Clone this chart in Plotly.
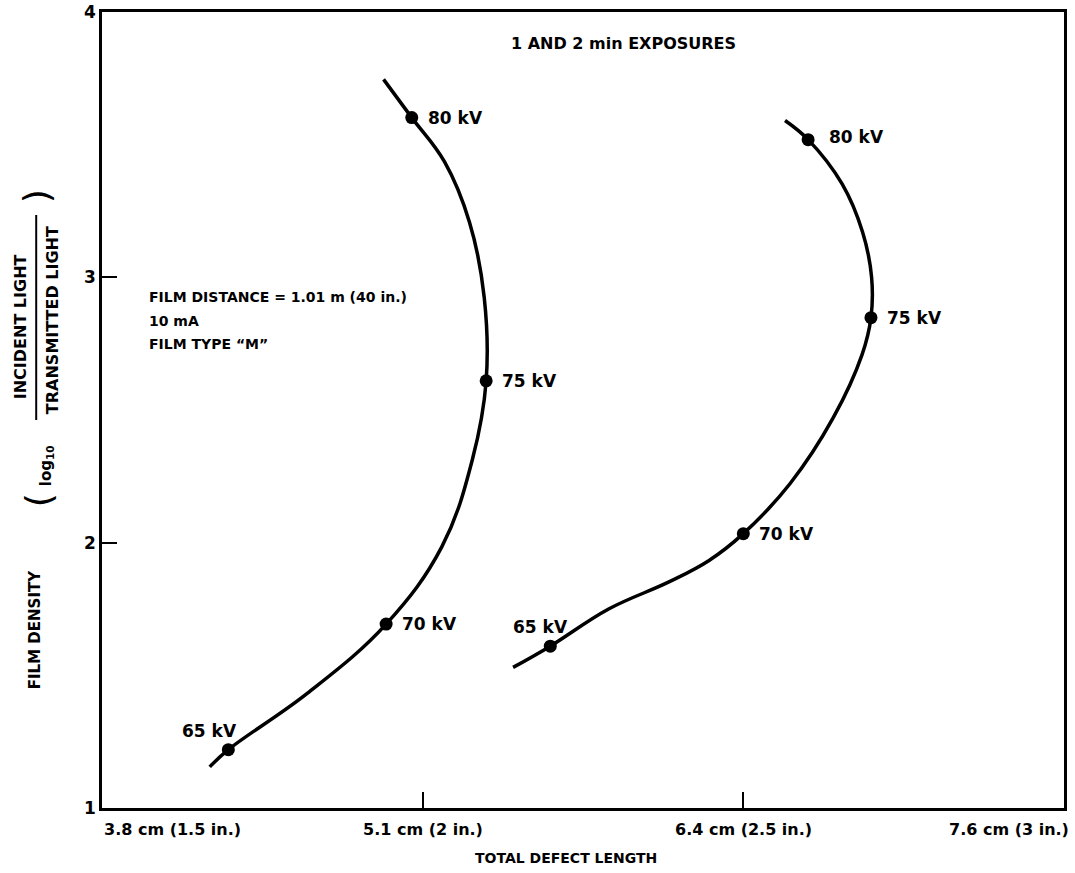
import plotly.graph_objects as go

# ---- data (x in inches of total defect length, y = film density) ----
left_curve_x = [1.668, 1.697, 1.820, 1.943, 2.030, 2.078, 2.099, 2.096, 2.073, 2.034, 1.983, 1.939]
left_curve_y = [1.155, 1.220, 1.432, 1.693, 1.985, 2.318, 2.610, 2.924, 3.208, 3.436, 3.602, 3.746]

right_curve_x = [2.141, 2.199, 2.290, 2.384, 2.446, 2.500, 2.573, 2.640, 2.685, 2.699, 2.700,
                 2.686, 2.654, 2.601, 2.565]
right_curve_y = [1.530, 1.610, 1.750, 1.852, 1.932, 2.034, 2.223, 2.470, 2.708, 2.848, 3.000,
                 3.170, 3.352, 3.519, 3.591]

kv_labels = ["65 kV", "70 kV", "75 kV", "80 kV"]
left_pts_x = [1.697, 1.943, 2.099, 1.983]
left_pts_y = [1.220, 1.693, 2.610, 3.602]
right_pts_x = [2.199, 2.500, 2.699, 2.601]
right_pts_y = [1.610, 2.034, 2.848, 3.519]

x_tick_vals = [1.5, 2.0, 2.5, 3.0]
x_tick_text = ["3.8 cm (1.5 in.)", "5.1 cm (2 in.)", "6.4 cm (2.5 in.)", "7.6 cm (3 in.)"]
y_tick_vals = [1, 2, 3, 4]

title_text = "1 AND 2 min EXPOSURES"
note_lines = ["FILM DISTANCE = 1.01 m (40 in.)", "10 mA", "FILM TYPE \u201cM\u201d"]
x_title = "TOTAL DEFECT LENGTH"

# ---- layout geometry ----
W, H = 1075, 873
L, R, T, B = 102, 8, 12, 65
PW, PH = W - L - R, H - T - B


def px(xp):
    return (xp - L) / PW


def py(yp):
    return (H - B - yp) / PH


FONT = "DejaVu Sans, Verdana, sans-serif"

fig = go.Figure()

for cx, cy in [(left_curve_x, left_curve_y), (right_curve_x, right_curve_y)]:
    fig.add_trace(go.Scatter(x=cx, y=cy, mode="lines",
                             line=dict(color="black", width=3.5, shape="spline", smoothing=1.1),
                             hoverinfo="skip", showlegend=False))

for mx, my in [(left_pts_x, left_pts_y), (right_pts_x, right_pts_y)]:
    fig.add_trace(go.Scatter(x=mx, y=my, mode="markers",
                             marker=dict(color="black", size=13),
                             text=kv_labels, showlegend=False))

ann = []
# kV labels (pixel offsets from markers)
left_off = [(-19, 19, "center"), (14, 0, "left"), (14, 0, "left"), (14, 0, "left")]
right_off = [(-10, 19, "center"), (14, 0, "left"), (14, 0, "left"), (19, 3, "left")]
for xs, ys, offs in [(left_pts_x, left_pts_y, left_off), (right_pts_x, right_pts_y, right_off)]:
    for lab, x, y, (dx, dy, anc) in zip(kv_labels, xs, ys, offs):
        ann.append(dict(x=x, y=y, xref="x", yref="y", text=f"<b>{lab}</b>", showarrow=False,
                        xanchor=anc, yanchor="middle", xshift=dx, yshift=dy,
                        font=dict(family=FONT, size=17, color="black")))

# x tick labels
for v, t in zip(x_tick_vals, x_tick_text):
    anc = "center"
    xs = 0
    if v == x_tick_vals[0]:
        anc, xs = "left", 0
    elif v == x_tick_vals[-1]:
        anc, xs = "right", 7
    ann.append(dict(x=v, y=py(829), xref="x", yref="paper", text=f"<b>{t}</b>", showarrow=False,
                    xanchor=anc, yanchor="middle", xshift=xs,
                    font=dict(family=FONT, size=16, color="black")))

# y tick labels
for v in y_tick_vals:
    ann.append(dict(x=px(98), y=v, xref="paper", yref="y", text=f"<b>{v}</b>", showarrow=False,
                    xanchor="right", yanchor="middle",
                    font=dict(family=FONT, size=17, color="black")))

# title inside plot
ann.append(dict(x=px(625), y=py(44), xref="paper", yref="paper", text=f"<b>{title_text}</b>",
                showarrow=False, xanchor="center", yanchor="middle",
                font=dict(family=FONT, size=16, color="black")))

# note block
for i, line in enumerate(note_lines):
    ann.append(dict(x=px(147), y=py(297 + 23.5 * i), xref="paper", yref="paper",
                    text=f"<b>{line}</b>", showarrow=False, xanchor="left", yanchor="middle",
                    font=dict(family=FONT, size=14, color="black")))

# x axis title
ann.append(dict(x=px(567), y=py(858), xref="paper", yref="paper", text=f"<b>{x_title}</b>",
                showarrow=False, xanchor="center", yanchor="middle",
                font=dict(family=FONT, size=14, color="black")))

# y axis title pieces (rotated)
ann.append(dict(x=px(35), y=py(630), xref="paper", yref="paper", text="<b>FILM DENSITY</b>",
                showarrow=False, textangle=-90, xanchor="center", yanchor="middle",
                font=dict(family=FONT, size=15, color="black")))
ann.append(dict(x=px(38), y=py(500), xref="paper", yref="paper", text="(",
                showarrow=False, textangle=-90, xanchor="center", yanchor="middle",
                font=dict(family=FONT, size=36, color="black")))
ann.append(dict(x=px(46), y=py(466), xref="paper", yref="paper", text="<b>log<sub>10</sub></b>",
                showarrow=False, textangle=-90, xanchor="center", yanchor="middle",
                font=dict(family=FONT, size=15, color="black")))
ann.append(dict(x=px(20), y=py(327), xref="paper", yref="paper", text="<b>INCIDENT LIGHT</b>",
                showarrow=False, textangle=-90, xanchor="center", yanchor="middle",
                font=dict(family=FONT, size=16, color="black")))
ann.append(dict(x=px(52), y=py(320), xref="paper", yref="paper", text="<b>TRANSMITTED LIGHT</b>",
                showarrow=False, textangle=-90, xanchor="center", yanchor="middle",
                font=dict(family=FONT, size=16, color="black")))
ann.append(dict(x=px(36), y=py(196), xref="paper", yref="paper", text=")",
                showarrow=False, textangle=-90, xanchor="center", yanchor="middle",
                font=dict(family=FONT, size=36, color="black")))

shapes = [dict(type="line", xref="paper", yref="paper", x0=px(36), x1=px(36), y0=py(215), y1=py(420),
               line=dict(color="black", width=2))]

fig.update_layout(
    width=W, height=H,
    margin=dict(l=L, r=R, t=T, b=B),
    paper_bgcolor="white", plot_bgcolor="white",
    annotations=ann, shapes=shapes,
    showlegend=False,
    xaxis=dict(range=[1.5, 3.0], tickvals=[2.0, 2.5], ticks="inside", ticklen=16, tickwidth=2,
               tickcolor="black", showticklabels=False, showgrid=False, zeroline=False,
               showline=True, linecolor="black", linewidth=3, mirror=True),
    yaxis=dict(range=[1, 4], tickvals=[2, 3], ticks="inside", ticklen=15, tickwidth=2,
               tickcolor="black", showticklabels=False, showgrid=False, zeroline=False,
               showline=True, linecolor="black", linewidth=3, mirror=True),
)

fig.write_html("out.html", config={"displayModeBar": False},
               post_script="document.body.style.margin='0';document.body.style.padding='0';")
